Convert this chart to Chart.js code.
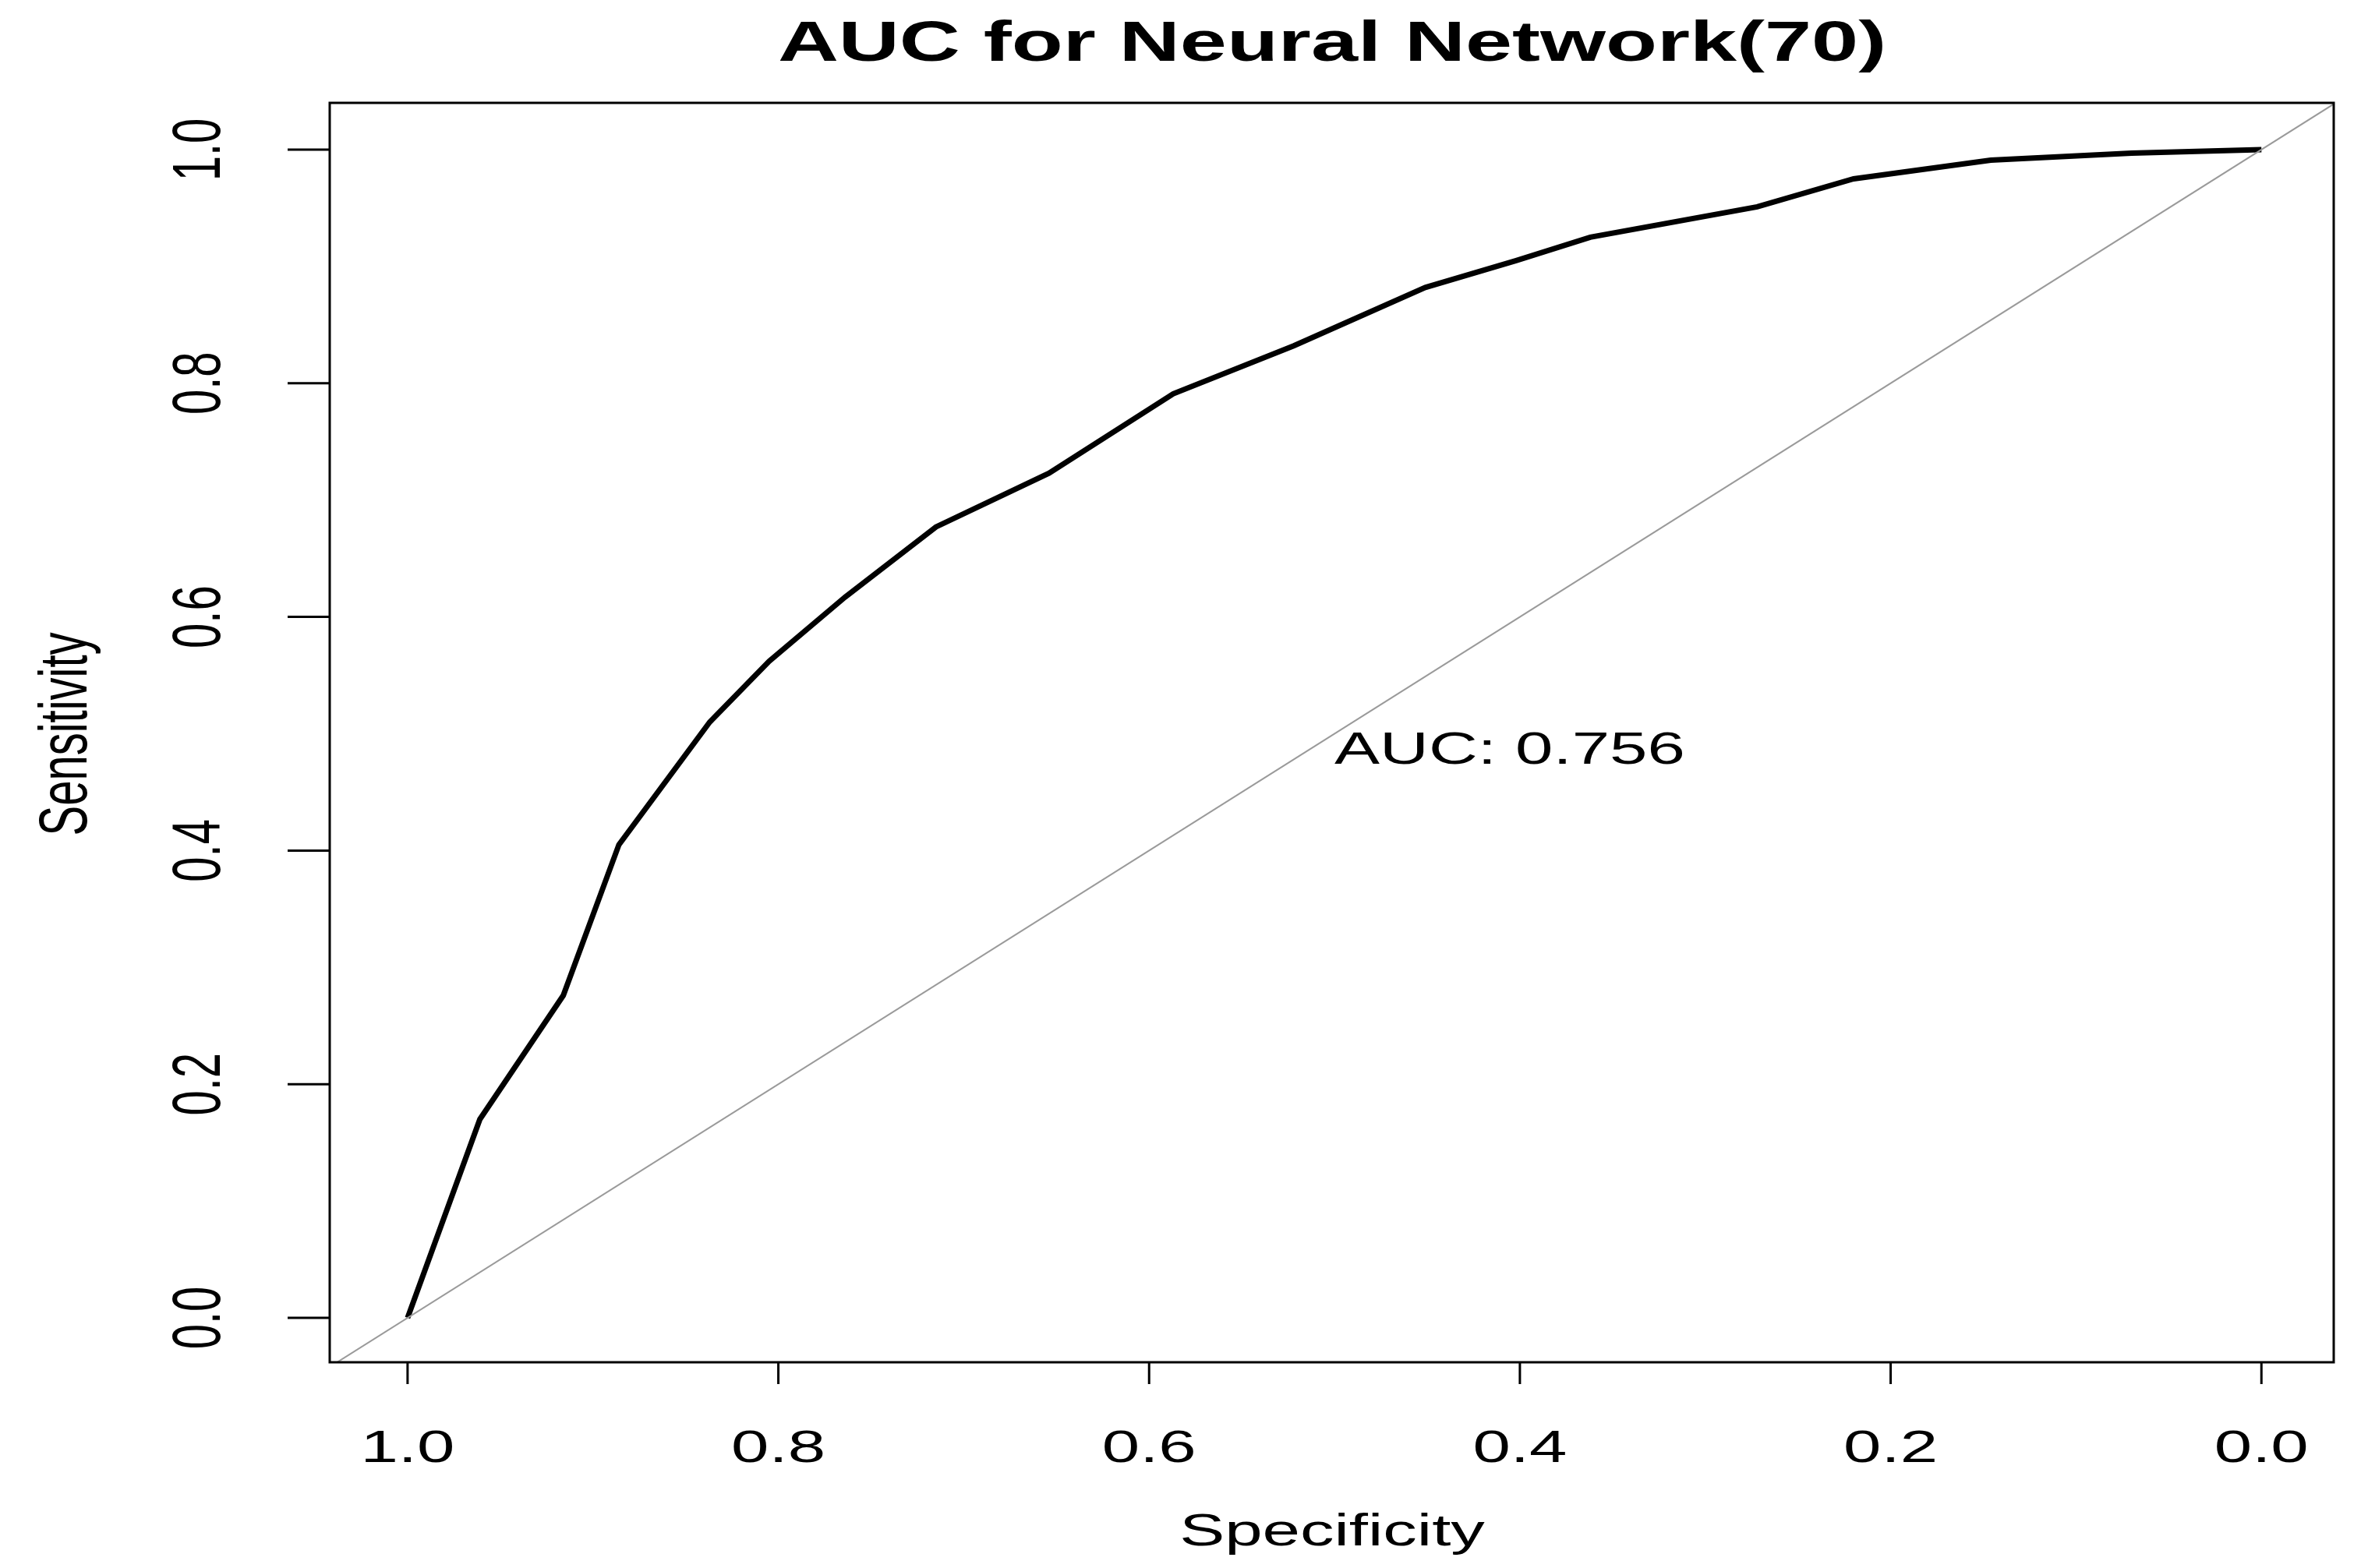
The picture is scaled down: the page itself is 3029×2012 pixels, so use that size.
<!DOCTYPE html>
<html lang="en">
<head>
<meta charset="UTF-8">
<title>AUC for Neural Network(70)</title>
<script src="https://cdn.jsdelivr.net/npm/chart.js@4.4.0/dist/chart.umd.min.js"></script>
<style>
  html, body { margin: 0; padding: 0; background: #fff; }
  #wrap { width: 3029px; height: 2012px; }
</style>
</head>
<body>
<div id="wrap"><canvas id="roc"></canvas></div>
<script>
// ROC curve
const specificity = [1.0, 0.961, 0.916, 0.886, 0.837, 0.805, 0.764, 0.715, 0.654, 0.587, 0.522, 0.451, 0.402, 0.362, 0.272, 0.22, 0.146, 0.07, 0.0];
const sensitivity = [0.0, 0.17, 0.276, 0.405, 0.51, 0.562, 0.617, 0.677, 0.723, 0.791, 0.832, 0.882, 0.905, 0.925, 0.951, 0.975, 0.991, 0.997, 1.0];
const xTicks = [1.0, 0.8, 0.6, 0.4, 0.2, 0.0];
const yTicks = [0.0, 0.2, 0.4, 0.6, 0.8, 1.0];
const titleText = 'AUC for Neural Network(70)';
const aucText = 'AUC: 0.756';

const FONT = '"Liberation Sans", Arial, sans-serif';
const STRETCH = 1.5; // the original picture is stretched sideways

// text with horizontal stretch, optional rotation
function drawText(ctx, txt, x, y, rot) {
    ctx.save();
    ctx.translate(x, y);
    ctx.scale(STRETCH, 1);
    if (rot) ctx.rotate(rot);
    ctx.fillText(txt, 0, 0);
    ctx.restore();
}

// axes, box, labels drawn R-style
const rAxes = {
    id: 'rAxes',
    afterDraw(chart) {
        const { ctx, chartArea: a, scales: { x, y } } = chart;
        ctx.save();
        ctx.strokeStyle = '#000';
        ctx.fillStyle = '#000';
        ctx.lineWidth = 3;
        ctx.strokeRect(a.left, a.top, a.right - a.left, a.bottom - a.top);

        ctx.font = '58px ' + FONT;
        ctx.textAlign = 'center';
        ctx.textBaseline = 'middle';
        xTicks.forEach(v => {
            const px = x.getPixelForValue(v);
            ctx.beginPath(); ctx.moveTo(px, a.bottom); ctx.lineTo(px, a.bottom + 28); ctx.stroke();
            drawText(ctx, v.toFixed(1), px, 1860);
        });
        yTicks.forEach(v => {
            const py = y.getPixelForValue(v);
            ctx.beginPath(); ctx.moveTo(a.left, py); ctx.lineTo(a.left - 54, py); ctx.stroke();
            drawText(ctx, v.toFixed(1), 258, py, -Math.PI / 2);
        });

        drawText(ctx, 'Specificity', 1709, 1967);
        drawText(ctx, 'Sensitivity', 87, 942, -Math.PI / 2);

        ctx.font = 'bold 72px ' + FONT;
        drawText(ctx, titleText, 1709, 58);

        ctx.font = '58px ' + FONT;
        ctx.textAlign = 'left';
        drawText(ctx, aucText, x.getPixelForValue(0.5), y.getPixelForValue(0.485));
        ctx.restore();
    }
};

new Chart(document.getElementById('roc'), {
    type: 'scatter',
    data: {
        datasets: [
            {
                label: 'chance',
                data: [{ x: 1.04, y: -0.04 }, { x: -0.04, y: 1.04 }],
                showLine: true,
                borderColor: '#9a9a9a',
                borderWidth: 2,
                pointRadius: 0
            },
            {
                label: 'ROC',
                data: specificity.map((s, i) => ({ x: s, y: sensitivity[i] })),
                showLine: true,
                borderColor: '#000',
                borderWidth: 7,
                pointRadius: 0,
                tension: 0
            }
        ]
    },
    options: {
        responsive: true,
        maintainAspectRatio: false,
        animation: false,
        layout: { padding: { left: 423, right: 35, top: 132, bottom: 264 } },
        plugins: { legend: { display: false }, tooltip: { enabled: false } },
        scales: {
            x: { type: 'linear', reverse: true, min: -0.039, max: 1.042, display: false },
            y: { type: 'linear', min: -0.038, max: 1.04, display: false }
        }
    },
    plugins: [rAxes]
});
</script>
</body>
</html>
